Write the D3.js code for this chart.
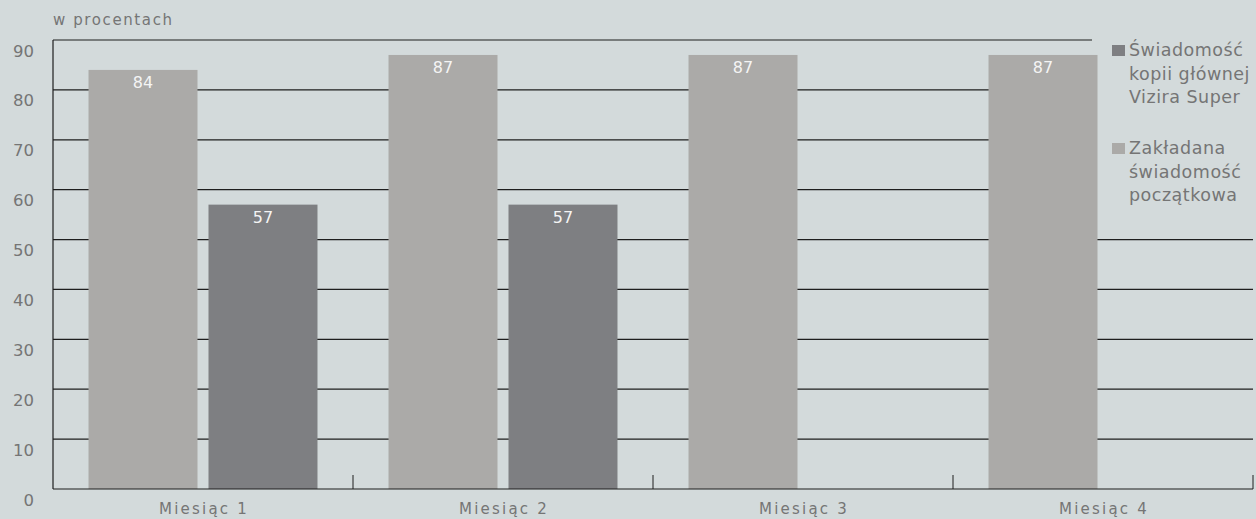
<!DOCTYPE html>
<html>
<head>
<meta charset="utf-8">
<script src="https://cdn.jsdelivr.net/npm/d3@7"></script>
<style>
  html, body { margin: 0; padding: 0; background: #d3dadb; }
  svg { display: block; }
  text { font-family: "DejaVu Sans", "Lato", sans-serif; fill: #757575; }
</style>
</head>
<body>
<svg id="chart" width="1256" height="519"></svg>
<script>
// Months on the x axis
const months = ["Miesiąc 1", "Miesiąc 2", "Miesiąc 3", "Miesiąc 4"];
// Series names (legend order)
const seriesNames = ["Świadomość kopii głównej Vizira Super", "Zakładana świadomość początkowa"];
// Assumed initial awareness (light bars)
const assumedAwareness = [84, 87, 87, 87];
// Awareness of the main Vizir Super copy (dark bars); no data for months 3 and 4
const copyAwareness = [57, 57, null, null];
// Y axis ticks
const yTicks = [0, 10, 20, 30, 40, 50, 60, 70, 80, 90];

const colors = { light: "#abaaa8", dark: "#7e7f82", bg: "#d3dadb", grid: "#1e1e1e" };

const svg = d3.select("#chart");
const W = 1256, H = 519;
const plotLeft = 53, plotRight = 1253, plotTop = 40, plotBottom = 489;

const x0 = d3.scaleBand().domain(months).range([plotLeft, plotRight]).paddingInner(0).paddingOuter(0);
// Within a month: light bar first, then dark bar
const x1 = d3.scaleBand().domain(["light", "dark"]).range([0, x0.bandwidth()])
  .paddingInner(0.0917).paddingOuter(0.296);
const y = d3.scaleLinear().domain([0, 90]).range([plotBottom, plotTop]);

// Horizontal grid lines
svg.append("g").selectAll("line").data(yTicks.filter(t => t > 0)).join("line")
  .attr("x1", plotLeft).attr("x2", plotRight)
  .attr("y1", d => y(d)).attr("y2", d => y(d))
  .attr("stroke", colors.grid).attr("stroke-width", 1.2);

// Legend panel hides the grid in the upper right
svg.append("rect").attr("x", 1092).attr("y", 0).attr("width", W - 1092).attr("height", 215)
  .attr("fill", colors.bg);

// Bars
const rows = months.map((m, i) => ({ month: m, light: assumedAwareness[i], dark: copyAwareness[i] }));
const groups = svg.append("g").selectAll("g").data(rows).join("g")
  .attr("transform", d => `translate(${x0(d.month)},0)`);

["light", "dark"].forEach(key => {
  const present = groups.filter(d => d[key] != null);
  present.append("rect")
    .attr("x", x1(key)).attr("width", x1.bandwidth())
    .attr("y", d => y(d[key])).attr("height", d => y(0) - y(d[key]))
    .attr("fill", colors[key]);
  present.append("text")
    .attr("x", x1(key) + x1.bandwidth() / 2)
    .attr("y", d => y(d[key]) + 18)
    .attr("text-anchor", "middle")
    .style("fill", "#f4f4f4").style("font-size", "16px")
    .text(d => d[key]);
});

// Axes frame
svg.append("line").attr("x1", plotLeft).attr("x2", plotLeft).attr("y1", plotTop).attr("y2", plotBottom)
  .attr("stroke", colors.grid).attr("stroke-width", 1.2);
svg.append("line").attr("x1", plotLeft).attr("x2", plotRight).attr("y1", plotBottom).attr("y2", plotBottom)
  .attr("stroke", colors.grid).attr("stroke-width", 1.2);

// Category separator ticks
const sepTicks = months.map(m => x0(m) + x0.bandwidth()).filter(v => v > plotLeft);
svg.append("g").selectAll("line").data(sepTicks).join("line")
  .attr("x1", d => d).attr("x2", d => d)
  .attr("y1", plotBottom - 14).attr("y2", plotBottom)
  .attr("stroke", colors.grid).attr("stroke-width", 1);

// Y tick labels, right-aligned, set just below each grid line
svg.append("g").selectAll("text").data(yTicks).join("text")
  .attr("x", 34).attr("y", d => y(d) + 16.5)
  .attr("text-anchor", "end")
  .style("font-size", "16.5px")
  .text(d => d);

// X labels
svg.append("g").selectAll("text").data(months).join("text")
  .attr("x", d => x0(d) + x0.bandwidth() / 2 + 1).attr("y", 514)
  .attr("text-anchor", "middle")
  .style("font-size", "15px").style("letter-spacing", "2.2px")
  .text(d => d);

// Axis title
svg.append("text").attr("x", 53).attr("y", 25)
  .style("font-size", "15px").style("letter-spacing", "1.6px")
  .text("w procentach");

// Legend
const legendLines = [
  ["Świadomość", "kopii głównej", "Vizira Super"],
  ["Zakładana", "świadomość", "początkowa"]
];
const legendColors = [colors.dark, colors.light];
const legendTop = [56, 154];
legendLines.forEach((lines, i) => {
  const y0 = legendTop[i];
  svg.append("rect").attr("x", 1112).attr("y", y0 - 11).attr("width", 13).attr("height", 11)
    .attr("fill", legendColors[i]);
  lines.forEach((t, j) => {
    svg.append("text").attr("x", 1129).attr("y", y0 + j * 23.5)
      .style("font-size", "17.5px").style("letter-spacing", "0.5px")
      .text(t);
  });
});
</script>
</body>
</html>
